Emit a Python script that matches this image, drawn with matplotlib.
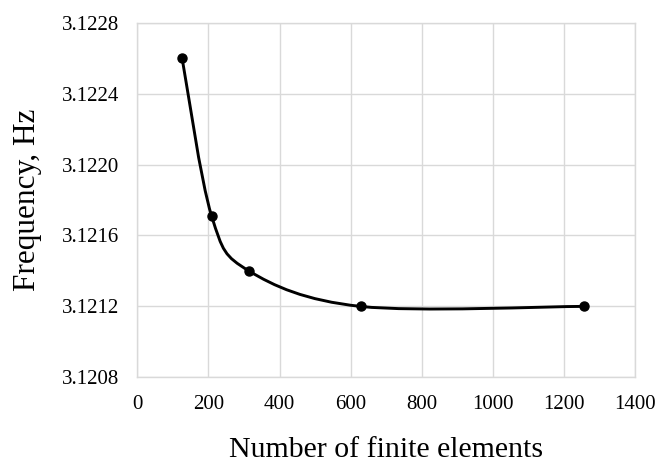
import numpy as np
import matplotlib
matplotlib.use("Agg")
import matplotlib.pyplot as plt
from matplotlib.path import Path
from matplotlib.patches import PathPatch

plt.rcParams['font.family'] = ['Liberation Serif', 'DejaVu Serif']

#> Data
elements = [126, 209, 314, 628, 1256]
frequency = [3.1226, 3.12171, 3.1214, 3.1212, 3.1212]
xTicks = [0, 200, 400, 600, 800, 1000, 1200, 1400]
yTicks = [3.1208, 3.1212, 3.1216, 3.1220, 3.1224, 3.1228]


#> Smooth curve (Excel-like Catmull-Rom bezier)
def smoothPath(xs, ys):
    pts = np.column_stack([xs, ys]).astype(float)
    n = len(pts)
    verts = [pts[0]]
    codes = [Path.MOVETO]
    for i in range(n - 1):
        p0 = pts[i - 1] if i > 0 else pts[i]
        p1 = pts[i]
        p2 = pts[i + 1]
        p3 = pts[i + 2] if i + 2 < n else pts[i + 1]
        c1 = p1 + (p2 - p0) / 6.0
        c2 = p2 - (p3 - p1) / 6.0
        verts += [c1, c2, p2]
        codes += [Path.CURVE4] * 3
    return Path(verts, codes)


fig = plt.figure(figsize=(6.56, 4.62), dpi=100)
ax = fig.add_axes([0.2093, 0.1833, 0.7587, 0.7676])

curve = PathPatch(smoothPath(elements, frequency), facecolor='none', edgecolor='black', linewidth=2.1, zorder=3)
ax.add_patch(curve)
ax.plot(elements, frequency, linestyle='none', marker='o', markersize=6.5, color='black', zorder=4)

ax.set_xlim(0, 1400)
ax.set_ylim(3.1208, 3.1228)
ax.set_xticks(xTicks)
ax.set_yticks(yTicks)
ax.set_yticklabels([f'{v:.4f}' for v in yTicks])
ax.grid(True, color='#d9d9d9', linewidth=1.0)
ax.set_axisbelow(True)
for spine in ax.spines.values():
    spine.set_color('#d9d9d9')
    spine.set_linewidth(1.0)
ax.tick_params(axis='both', length=0, labelsize=15)
ax.tick_params(axis='x', pad=13)
ax.tick_params(axis='y', pad=13)

ax.set_xlabel('Number of finite elements', fontsize=21.5, labelpad=16)
ax.set_ylabel('Frequency, Hz', fontsize=22.5, labelpad=14)

fig.savefig('out.png', dpi=100)
